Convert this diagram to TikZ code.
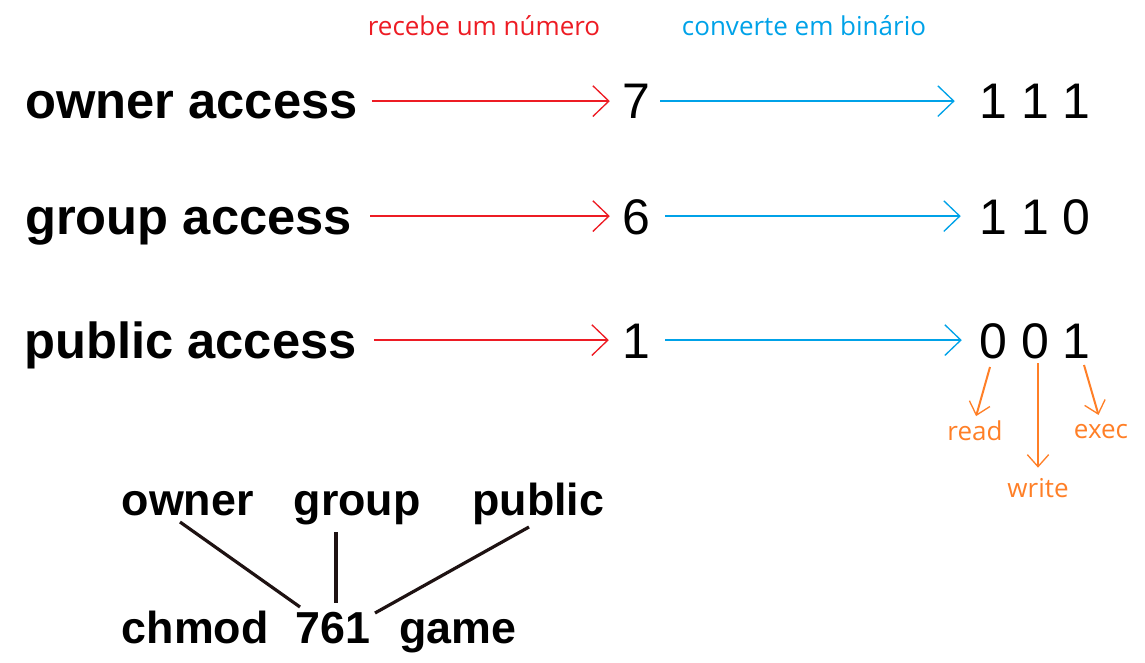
\documentclass[tikz,border=0pt]{standalone}
\usepackage{fontspec}
\setmainfont{Liberation Sans}
\newfontfamily\uifont{Open Sans}
\usetikzlibrary{arrows.meta,calc}
\definecolor{pred}{HTML}{ED1C24}
\definecolor{pblue}{HTML}{00A2E8}
\definecolor{porange}{HTML}{FF7F27}
\definecolor{pline}{HTML}{1E1212}
\begin{document}
\begin{tikzpicture}[x=0.75pt,y=-0.75pt,
  big/.style={font=\fontsize{38pt}{40pt}\selectfont\bfseries, inner sep=0pt, anchor=base west, text height=26.85pt, text depth=0pt},
  digit/.style={font=\fontsize{37.5pt}{40pt}\selectfont, inner sep=0pt, anchor=base, text height=26.85pt, text depth=0pt},
  small/.style={font=\uifont\fontsize{19.5pt}{22pt}\selectfont, inner sep=0pt, anchor=base},
  bot/.style={font=\fontsize{33.6pt}{36pt}\selectfont\bfseries, inner sep=0pt, anchor=base west},
  redarr/.style={draw=pred, line width=1.5pt, -{Straight Barb[length=12pt,width=23pt,line width=1pt]}},
  bluearr/.style={draw=pblue, line width=1.5pt, -{Straight Barb[length=12pt,width=23pt,line width=1pt]}},
  orarr/.style={draw=porange, line width=1.5pt, -{Straight Barb[length=9pt,width=16pt,line width=1pt]}},
  blk/.style={draw=pline, line width=2.4pt}
]
\useasboundingbox (0,0) rectangle (1145,663);

% header labels
\node[small, text=pred] (lrec) at (484,36) {recebe um número};
\node[small, text=pblue] (lconv) at (804,36) {converte em binário};

% left labels
\node[big] (own) at (25,119) {owner access};
\node[big] (grp) at (25,234) {group access};
\node[big] (pub) at (24,358) {public access};

% digits
\node[digit] (d7) at (636,119) {7};
\node[digit] (d6) at (636,234) {6};
\node[digit] (d1) at (636,358) {1};

% binary
\node[digit] (b1) at (1035,119) {1 1 1};
\node[digit] (b2) at (1035,234) {1 1 0};
\node[digit] (b3) at (1035,358) {0 0 1};

% red arrows
\draw[redarr, shorten <=10.5pt, shorten >=9pt] (own.east) -- (d7.west);
\draw[redarr, shorten <=13.5pt, shorten >=9pt] (grp.east) -- (d6.west);
\draw[redarr, shorten <=12.75pt, shorten >=9.75pt] (pub.east) -- (d1.west);

% blue arrows
\draw[bluearr, shorten <=7.5pt, shorten >=18.3pt] (d7.east) -- (b1.west);
\draw[bluearr, shorten <=11.25pt, shorten >=13.8pt] (d6.east) -- (b2.west);
\draw[bluearr, shorten <=11.25pt, shorten >=13pt] (d1.east) -- (b3.west);

% orange labels and arrows
\node[small, text=porange] (lread) at (975,440) {read};
\node[small, text=porange] (lwrite) at (1038,497) {write};
\node[small, text=porange] (lexec) at (1101,438) {exec};
\coordinate (rs) at (990,367);
\coordinate (ws) at (1038,363);
\coordinate (es) at (1084,365);
\draw[orarr, shorten >=3pt] (rs) -- (lread.north);
\draw[orarr, shorten >=7.5pt] (ws) -- (lwrite.north);
\draw[orarr, shorten >=6.75pt] (es) -- (lexec.north);

% bottom chmod diagram
\node[bot] (wo) at (121.5,515) {owner};
\node[bot] (wg) at (293.5,515) {group};
\node[bot] (wp) at (472,515) {public};
\node[bot] (wc) at (121.5,643) {chmod};
\node[bot] (wn) at (295,643) {761};
\node[bot] (wgm) at (399,643) {game};

\draw[blk] ($(wo.base west)+(58.5,7)$) -- ($(wn.base west)+(5,-36)$);
\draw[blk] ($(wg.base west)+(42.5,17)$) -- ($(wn.base west)+(41,-40)$);
\draw[blk] ($(wp.base west)+(57,12)$) -- ($(wn.base west)+(80,-30)$);
\end{tikzpicture}
\end{document}
